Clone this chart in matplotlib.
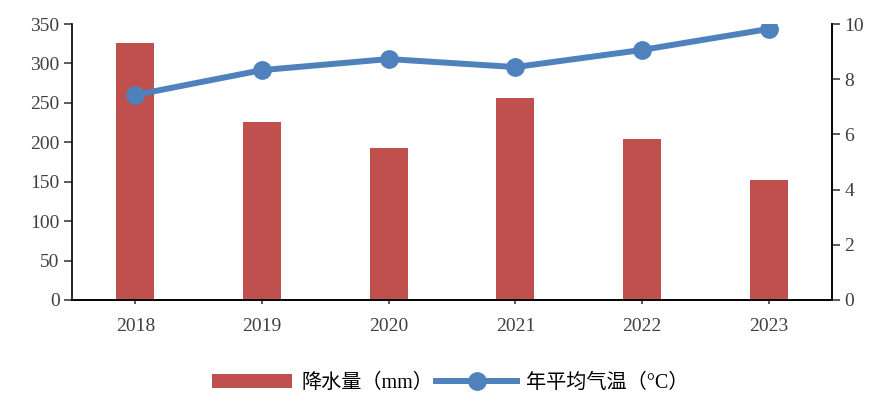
import matplotlib
matplotlib.use('Agg')
import matplotlib.pyplot as plt
import numpy as np

years = ['2018', '2019', '2020', '2021', '2022', '2023']
rain = [326, 226, 193, 256, 204, 152]          # 降水量 (mm)
temp = [7.43, 8.33, 8.73, 8.44, 9.06, 9.82]    # 年平均气温 (°C)

plt.rcParams['font.family'] = ['Liberation Serif', 'Noto Sans CJK SC']

fig = plt.figure(figsize=(8.86, 4.12), dpi=100)
ax = fig.add_axes([0.0813, 0.272, 0.8577, 0.6697])
ax2 = ax.twinx()

x = np.arange(len(years))
b = ax.bar(x, rain, width=0.3, color='#C0504D', label='降水量（mm）', zorder=2)
l, = ax2.plot(x, temp, color='#4F81BD', lw=4.3, marker='o', ms=12.5,
              label='年平均气温（°C）', zorder=3)

ax.set_xlim(-0.5, 5.5)
ax.set_ylim(0, 350)
ax.set_yticks(range(0, 351, 50))
ax2.set_ylim(0, 10)
ax2.set_yticks(range(0, 11, 2))
ax.set_xticks(x)
ax.set_xticklabels(years)

for a in (ax, ax2):
    a.spines['top'].set_visible(False)
    a.tick_params(labelsize=14, colors='#404040', length=6, width=1.2)
    for s in a.spines.values():
        s.set_linewidth(1.2)
ax2.spines['left'].set_visible(False)
ax.tick_params(axis='x', length=3, pad=10)
ax.tick_params(axis='y', pad=3)
ax2.tick_params(axis='y', pad=3)
ax.set_zorder(1)
ax2.set_zorder(2)

fig.legend([b, l], ['降水量（mm）', '年平均气温（°C）'], loc='center',
           bbox_to_anchor=(0.508, 0.07), ncol=2, frameon=False, fontsize=14.5,
           handlelength=4.0, handleheight=0.7, columnspacing=0.15,
           handletextpad=0.45)

fig.savefig('out.png', dpi=100)
